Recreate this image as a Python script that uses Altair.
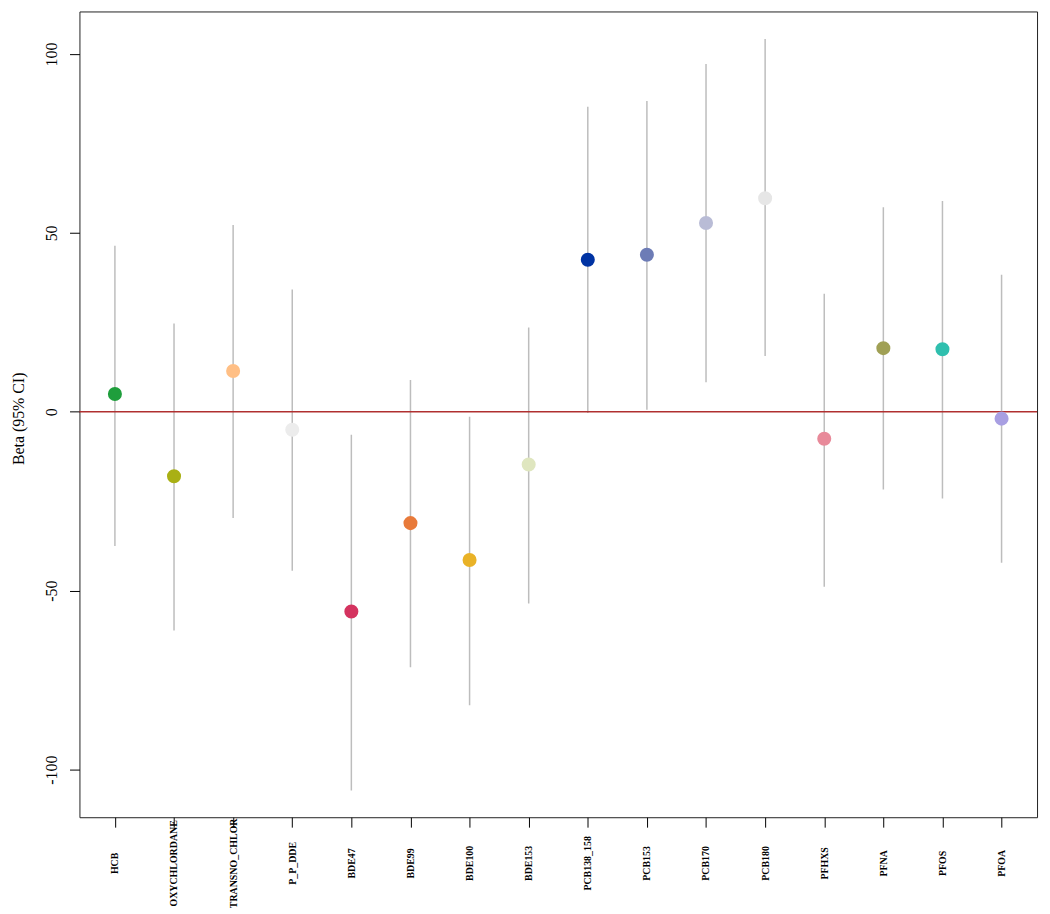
import altair as alt
import pandas as pd

names = ["HCB", "OXYCHLORDANE", "TRANSNO_CHLOR", "P_P_DDE", "BDE47", "BDE99",
         "BDE100", "BDE153", "PCB138_158", "PCB153", "PCB170", "PCB180",
         "PFHXS", "PFNA", "PFOS", "PFOA"]
beta = [5.0, -18.0, 11.4, -5.0, -55.8, -31.1, -41.4, -14.7, 42.5, 43.9, 52.8,
        59.7, -7.5, 17.8, 17.5, -1.9]
lower = [-37.5, -61.1, -29.7, -44.4, -105.8, -71.4, -82.0, -53.6, -0.3, 0.6,
         8.3, 15.6, -48.9, -21.7, -24.2, -42.2]
upper = [46.4, 24.7, 52.2, 34.2, -6.4, 8.9, -1.4, 23.6, 85.3, 86.9, 97.2,
         104.2, 33.0, 57.2, 58.9, 38.3]
colors = ["#1f9e3c", "#a9b014", "#ffbf85", "#ececec", "#d4335f", "#e87a3a",
          "#e9b227", "#dfe6bf", "#0033a3", "#6d7cb6", "#b9bcd6", "#e6e6e6",
          "#e88a9a", "#a0a055", "#2fbfae", "#a89fe2"]

df = pd.DataFrame({
    "idx": list(range(1, len(names) + 1)),
    "name": names,
    "beta": beta,
    "lower": lower,
    "upper": upper,
    "color": colors,
})

label_expr = "[" + ",".join("'" + n + "'" for n in names) + "][datum.value - 1]"

FONT = "Liberation Serif"

x = alt.X("idx:Q",
          scale=alt.Scale(domain=[0.4, 16.6], nice=False, zero=False),
          axis=alt.Axis(values=list(range(1, 17)), labelExpr=label_expr,
                        title=None, grid=False, domain=False,
                        tickSize=10, tickColor="#000", tickWidth=1,
                        labelAngle=270, labelAlign="center",
                        labelBaseline="middle", labelPadding=36,
                        labelFont=FONT, labelFontSize=10,
                        labelFontWeight="bold", labelColor="#000",
                        labelOverlap=False, labelFlush=False, labelBound=False))

yscale = alt.Scale(domain=[-113.3, 111.9], nice=False, zero=False)

base = alt.Chart(df)

ci = base.mark_rule(color="#bdbdbd", strokeWidth=1.5).encode(
    x=x,
    y=alt.Y("lower:Q", scale=yscale,
            axis=alt.Axis(values=[-100, -50, 0, 50, 100], title="Beta (95% CI)",
                          labelExpr="datum.value + ''",
                          grid=False, domain=False, tickSize=10,
                          tickColor="#000", labelAngle=270,
                          labelAlign="center", labelBaseline="middle",
                          labelPadding=18, labelFont=FONT, labelFontSize=16,
                          labelColor="#000", titleFont=FONT, titleFontSize=16,
                          titleFontWeight="normal", titleColor="#000",
                          titleAngle=270, titleX=-61, titleY=410,
                          titleBaseline="middle", titleAlign="center")),
    y2="upper:Q",
)

zero = alt.Chart(pd.DataFrame({"z": [0]})).mark_rule(
    color="#b03030", strokeWidth=1.5).encode(y=alt.Y("z:Q", scale=yscale))

pts = base.mark_point(filled=True, shape="circle", size=200, opacity=1).encode(
    x=x,
    y=alt.Y("beta:Q", scale=yscale),
    color=alt.Color("color:N", scale=None),
)

chart = alt.layer(ci, zero, pts).properties(
    width=965, height=812,
    autosize=alt.AutoSizeParams(type="none"),
    padding={"left": 72, "top": 0, "right": 5, "bottom": 90},
).configure(
    background="white",
    view=alt.ViewConfig(stroke="#222222", strokeWidth=1),
)

chart.save("out.html", embed_options={"renderer": "svg", "actions": False})
